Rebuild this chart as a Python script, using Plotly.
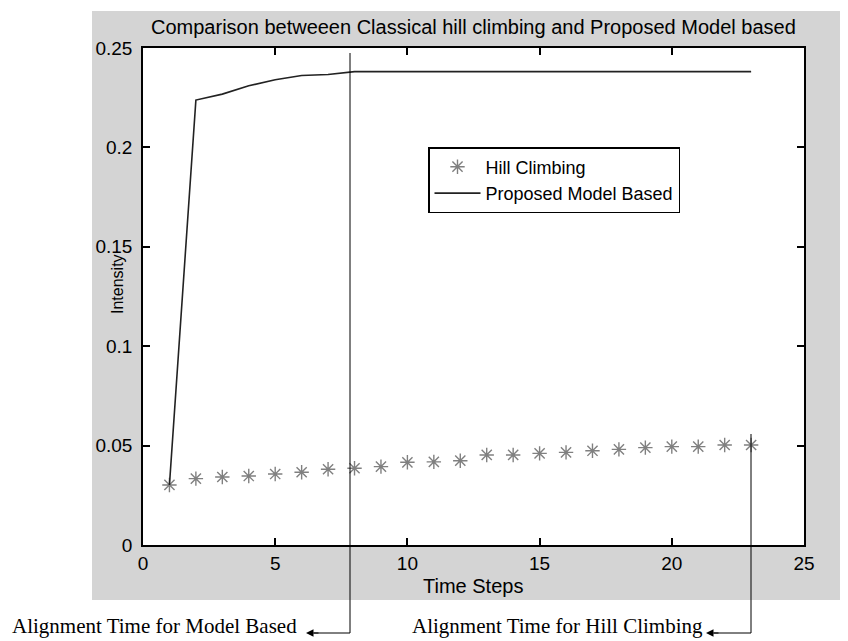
import plotly.graph_objects as go

time_steps = list(range(1, 24))
hill_climbing = [0.0302, 0.0334, 0.0342, 0.0347, 0.0357, 0.0366, 0.0381, 0.0386,
                 0.0394, 0.0416, 0.0418, 0.0424, 0.0453, 0.0453, 0.0461, 0.0466,
                 0.0474, 0.0481, 0.0490, 0.0495, 0.0495, 0.0503, 0.0503]
proposed_model = [0.0302, 0.2238, 0.2268, 0.2310, 0.2340, 0.2362, 0.2367, 0.2381,
                  0.2381, 0.2381, 0.2381, 0.2381, 0.2381, 0.2381, 0.2381, 0.2381,
                  0.2381, 0.2381, 0.2381, 0.2381, 0.2381, 0.2381, 0.2381]
x_ticks = [0, 5, 10, 15, 20, 25]
y_ticks = [0, 0.05, 0.1, 0.15, 0.2, 0.25]
y_tick_labels = ["0", "0.05", "0.1", "0.15", "0.2", "0.25"]

OFF = 8  # page body margin
W, H = 848 - OFF, 641 - OFF
L, R, T, B = 143 - OFF, 804 - OFF, 48 - OFF, 545 - OFF
pw, ph = R - L, B - T

def px(x):
    return (x - OFF - L) / pw

def py(y):
    return (B - (y - OFF)) / ph

sans = "Liberation Sans, Arial, sans-serif"
serif = "Liberation Serif, Times New Roman, serif"

fig = go.Figure()
fig.add_trace(go.Scatter(
    x=time_steps, y=hill_climbing, mode="markers", name="Hill Climbing",
    marker=dict(symbol="asterisk-open", size=12, color="#808080",
                line=dict(color="#808080", width=1.4)),
))
fig.add_trace(go.Scatter(
    x=time_steps, y=proposed_model, mode="lines", name="Proposed Model Based",
    line=dict(color="#222222", width=1.6),
))

shapes = [
    dict(type="rect", xref="paper", yref="paper", x0=px(92), x1=px(860), y0=py(600), y1=py(11),
         fillcolor="#d4d4d4", line=dict(width=0), layer="below"),
    dict(type="rect", xref="paper", yref="paper", x0=0, x1=1, y0=0, y1=1,
         fillcolor="white", line=dict(width=0), layer="below"),
    # annotation leader lines
    dict(type="line", xref="paper", yref="paper", x0=px(350), x1=px(350), y0=py(53), y1=py(633),
         line=dict(color="black", width=1)),
    dict(type="line", xref="paper", yref="paper", x0=px(350), x1=px(314), y0=py(633), y1=py(633),
         line=dict(color="black", width=1)),
    dict(type="line", xref="paper", yref="paper", x0=px(751), x1=px(751), y0=py(434), y1=py(633),
         line=dict(color="black", width=1)),
    dict(type="line", xref="paper", yref="paper", x0=px(751), x1=px(714), y0=py(633), y1=py(633),
         line=dict(color="black", width=1)),
]

annotations = [
    dict(x=px(306), y=py(633), xref="paper", yref="paper", text="", showarrow=True,
         ax=14, ay=0, arrowhead=2, arrowsize=1.5, arrowwidth=1, arrowcolor="black"),
    dict(x=px(706), y=py(633), xref="paper", yref="paper", text="", showarrow=True,
         ax=14, ay=0, arrowhead=2, arrowsize=1.5, arrowwidth=1, arrowcolor="black"),
    dict(x=px(10), y=py(626), xref="paper", yref="paper", xanchor="left", yanchor="middle",
         text="Alignment Time for Model Based", showarrow=False,
         font=dict(family=serif, size=21, color="black")),
    dict(x=px(410), y=py(626), xref="paper", yref="paper", xanchor="left", yanchor="middle",
         text="Alignment Time for Hill Climbing", showarrow=False,
         font=dict(family=serif, size=21, color="black")),
    dict(x=0.5, y=py(27), xref="paper", yref="paper", xanchor="center", yanchor="middle",
         text="Comparison betweeen Classical hill climbing and Proposed Model based",
         showarrow=False, font=dict(family=sans, size=20, color="black")),
    dict(x=px(473), y=py(586), xref="paper", yref="paper", xanchor="center", yanchor="middle",
         text="Time Steps", showarrow=False, font=dict(family=sans, size=20, color="black")),
    dict(x=px(117), y=py(284), xref="paper", yref="paper", xanchor="center", yanchor="middle",
         text="Intensity", textangle=-90, showarrow=False,
         font=dict(family=sans, size=16, color="black")),
]

axis_common = dict(
    showgrid=False, zeroline=False, showline=True, linecolor="black", linewidth=1.5,
    mirror="ticks", ticks="inside", ticklen=7, tickcolor="black", tickwidth=1.5,
    tickfont=dict(family=sans, size=19, color="black"),
)

fig.update_layout(
    width=W, height=H,
    margin=dict(l=L, r=W - R, t=T, b=H - B),
    paper_bgcolor="white", plot_bgcolor="rgba(0,0,0,0)",
    shapes=shapes, annotations=annotations,
    xaxis=dict(range=[0, 25], tickvals=x_ticks, ticktext=[str(v) for v in x_ticks],
               **axis_common),
    yaxis=dict(range=[0, 0.25], tickvals=y_ticks, ticktext=y_tick_labels,
               ticklabelstandoff=5, **axis_common),
    legend=dict(x=px(428), y=py(147), xanchor="left", yanchor="top",
                bgcolor="white", bordercolor="black", borderwidth=1.5,
                font=dict(family=sans, size=18, color="black"), tracegroupgap=0,
                itemwidth=46),
    showlegend=True,
)

fig.write_html("out.html")
